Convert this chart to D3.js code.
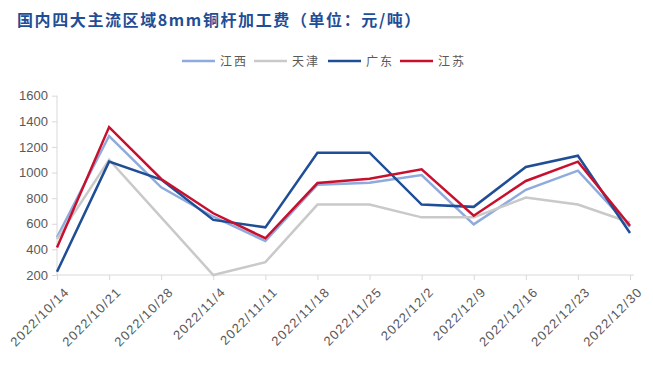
<!DOCTYPE html>
<html><head><meta charset="utf-8">
<script src="https://cdn.jsdelivr.net/npm/d3@7"></script>
<style>body{margin:0;background:#fff;}svg{display:block;}</style>
</head><body>
<svg id="c" width="653" height="369"></svg>
<script>
const categories = ["2022/10/14","2022/10/21","2022/10/28","2022/11/4","2022/11/11","2022/11/18","2022/11/25","2022/12/2","2022/12/9","2022/12/16","2022/12/23","2022/12/30"];
const jiangxi  = [495,1285,885,655,465,905,920,980,595,865,1015,575];
const tianjin  = [480,1100,650,200,300,750,750,650,650,805,750,610];
const guangdong= [225,1085,945,630,572,1155,1155,750,732,1043,1131,528];
const jiangsu  = [415,1355,950,682,487,918,952,1025,663,934,1085,585];
const seriesNames = ["江西","天津","广东","江苏"];
const seriesColors = ["#8faadc","#c9c9c9","#1f4e96","#c8102e"];
const yTicks = [200,400,600,800,1000,1200,1400,1600];

const svg = d3.select("#c");
const font = "'Microsoft YaHei','Noto Sans CJK SC',sans-serif";
const x = d3.scalePoint().domain(categories).range([57, 630]);
const y = d3.scaleLinear().domain([200,1600]).range([275, 95.7]);

svg.append("text").attr("x",17).attr("y",26).text("国内四大主流区域8mm铜杆加工费（单位：元/吨）")
  .attr("font-family","'Noto Sans CJK SC',sans-serif").attr("font-weight","bold")
  .attr("font-size",16).attr("letter-spacing",1.6).attr("fill","#1f4e96");

// y axis
const ya = svg.append("g").attr("transform","translate(57,0)")
  .call(d3.axisLeft(y).tickValues(yTicks).tickSize(5).tickPadding(4).tickFormat(d3.format("d")));
ya.select(".domain").attr("stroke","#d9d9d9").attr("d","M0,95.7V275");
ya.selectAll(".tick line").attr("stroke","#d9d9d9");
ya.selectAll("text").attr("font-family","Arial,'Liberation Sans',sans-serif").attr("font-size",13).attr("fill","#595959");

// x axis
const xa = svg.append("g").attr("transform","translate(0,275)")
  .call(d3.axisBottom(x).tickSize(5).tickSizeOuter(0));
xa.select(".domain").attr("stroke","#d9d9d9").attr("d","M57,0H634");
xa.selectAll(".tick line").attr("stroke","#d9d9d9");
xa.selectAll("text").attr("font-family","Arial,'Liberation Sans',sans-serif").attr("font-size",13).attr("fill","#595959")
  .attr("letter-spacing",1.2)
  .attr("text-anchor","end").attr("dy","0").attr("transform","translate(7,12) rotate(-45)");

const data = [jiangxi,tianjin,guangdong,jiangsu];
const line = d3.line().x((d,i)=>x(categories[i])).y(d=>y(d));
data.forEach((s,k)=>{
  svg.append("path").datum(s).attr("d",line).attr("fill","none")
    .attr("stroke",seriesColors[k]).attr("stroke-width",2.5).attr("stroke-linejoin","miter");
});

// legend
const lx = [182,254,328,400];
seriesNames.forEach((n,k)=>{
  svg.append("line").attr("x1",lx[k]).attr("x2",lx[k]+33).attr("y1",61).attr("y2",61)
    .attr("stroke",seriesColors[k]).attr("stroke-width",2.5);
  svg.append("text").attr("x",lx[k]+38).attr("y",65.5).text(n)
    .attr("font-family",font).attr("font-size",12).attr("fill","#595959").attr("letter-spacing","2");
});
</script>
</body></html>
